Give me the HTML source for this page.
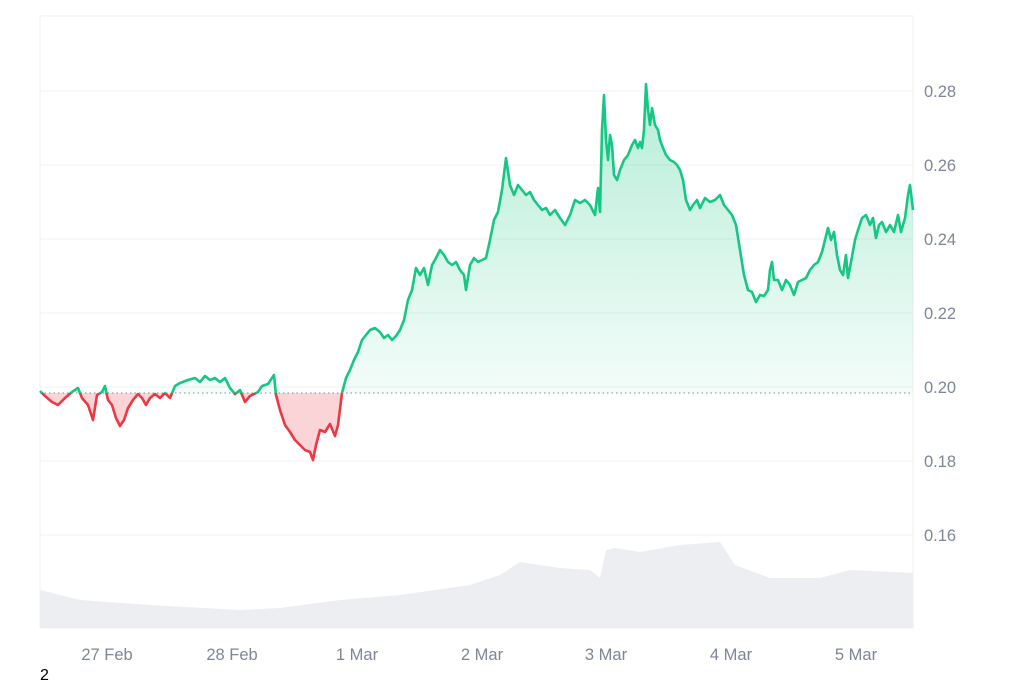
<!DOCTYPE html>
<html><head><style>
body{margin:0;background:#fff;width:1024px;height:683px;overflow:hidden;font-family:"Liberation Sans",sans-serif}
</style></head><body>
<svg width="1024" height="683" xmlns="http://www.w3.org/2000/svg" font-family="Liberation Sans, sans-serif">
<defs>
<linearGradient id="g" x1="0" y1="80" x2="0" y2="393" gradientUnits="userSpaceOnUse">
<stop offset="0" stop-color="#16c784" stop-opacity="0.32"/><stop offset="1" stop-color="#16c784" stop-opacity="0.05"/></linearGradient>
<clipPath id="up"><rect x="0" y="0" width="1024" height="393"/></clipPath>
<clipPath id="dn"><rect x="0" y="393" width="1024" height="300"/></clipPath>
<path id="p" d="M40,391 L45,396 L52,402 L58,405 L65,398 L72,392 L78,388 L82,398 L88,405 L93,420 L97,395 L102,392 L105,386 L108,400 L112,405 L116,418 L120,426 L124,420 L128,408 L133,400 L138,394 L142,398 L146,405 L150,398 L155,394 L160,398 L165,393 L170,398 L175,386 L180,383 L188,380 L195,378 L200,382 L205,376 L210,380 L215,378 L220,382 L225,378 L230,388 L235,394 L240,390 L245,402 L250,396 L258,392 L262,386 L268,384 L274,375 L276,395 L280,410 L285,425 L290,432 L295,440 L300,445 L305,450 L310,452 L313,460 L316,445 L320,430 L325,432 L330,424 L335,436 L338,425 L342,393 L346,378 L350,370 L354,360 L358,352 L362,340 L366,335 L370,330 L375,328 L380,332 L384,338 L388,335 L392,340 L396,336 L400,330 L404,320 L408,300 L412,290 L416,268 L420,275 L424,268 L428,285 L432,265 L436,258 L440,250 L444,255 L448,262 L452,265 L456,262 L460,270 L464,275 L466,290 L470,265 L474,258 L478,262 L482,260 L486,258 L490,240 L494,220 L498,212 L502,190 L506,158 L510,185 L514,195 L518,185 L522,190 L526,195 L530,192 L534,200 L538,205 L542,210 L546,208 L550,215 L555,210 L560,218 L565,225 L570,215 L575,200 L580,203 L585,200 L590,205 L595,215 L598,188 L600,212 L602,130 L604,95 L606,140 L608,160 L610,135 L612,145 L614,175 L617,180 L620,170 L624,160 L628,155 L632,145 L635,140 L638,148 L640,142 L642,148 L644,130 L646,84 L648,110 L650,125 L652,108 L655,125 L658,130 L660,140 L663,148 L666,155 L670,160 L674,162 L677,165 L680,170 L683,180 L686,200 L690,210 L693,205 L697,200 L700,208 L705,198 L710,202 L715,200 L720,195 L724,205 L728,210 L732,215 L736,225 L740,250 L744,275 L748,290 L752,292 L756,302 L760,295 L764,296 L768,290 L770,270 L772,262 L774,280 L778,280 L782,290 L786,280 L790,285 L794,295 L798,282 L802,280 L806,278 L810,270 L814,265 L818,262 L822,252 L825,240 L828,228 L831,240 L834,232 L837,255 L840,270 L843,275 L846,255 L848,278 L851,262 L855,240 L858,230 L862,218 L866,215 L870,225 L873,218 L876,238 L879,225 L882,222 L886,232 L890,225 L894,232 L898,215 L901,232 L905,218 L908,195 L910,185 L913,210"/>
</defs>
<rect x="40" y="16" width="873" height="612" fill="none" stroke="#eff0f2"/>
<g stroke="#eff0f2" stroke-width="1">
<line x1="40" x2="913" y1="91" y2="91"/><line x1="40" x2="913" y1="165" y2="165"/>
<line x1="40" x2="913" y1="239" y2="239"/><line x1="40" x2="913" y1="313" y2="313"/>
<line x1="40" x2="913" y1="387" y2="387"/><line x1="40" x2="913" y1="461" y2="461"/>
<line x1="40" x2="913" y1="535" y2="535"/>
</g>
<path d="M40,590 L80,600 L150,605 L240,610 L280,608 L340,600 L400,595 L470,585 L500,575 L520,562 L560,568 L590,570 L600,578 L606,550 L615,548 L640,552 L680,545 L720,542 L735,565 L770,578 L820,578 L850,570 L913,573 L913,628 L40,628Z" fill="#eceef1"/>
<path d="M40,391 L45,396 L52,402 L58,405 L65,398 L72,392 L78,388 L82,398 L88,405 L93,420 L97,395 L102,392 L105,386 L108,400 L112,405 L116,418 L120,426 L124,420 L128,408 L133,400 L138,394 L142,398 L146,405 L150,398 L155,394 L160,398 L165,393 L170,398 L175,386 L180,383 L188,380 L195,378 L200,382 L205,376 L210,380 L215,378 L220,382 L225,378 L230,388 L235,394 L240,390 L245,402 L250,396 L258,392 L262,386 L268,384 L274,375 L276,395 L280,410 L285,425 L290,432 L295,440 L300,445 L305,450 L310,452 L313,460 L316,445 L320,430 L325,432 L330,424 L335,436 L338,425 L342,393 L40,393Z" fill="#ea3943" fill-opacity="0.22" clip-path="url(#dn)"/>
<path d="M40,393 L40,391 L45,396 L52,402 L58,405 L65,398 L72,392 L78,388 L82,398 L88,405 L93,420 L97,395 L102,392 L105,386 L108,400 L112,405 L116,418 L120,426 L124,420 L128,408 L133,400 L138,394 L142,398 L146,405 L150,398 L155,394 L160,398 L165,393 L170,398 L175,386 L180,383 L188,380 L195,378 L200,382 L205,376 L210,380 L215,378 L220,382 L225,378 L230,388 L235,394 L240,390 L245,402 L250,396 L258,392 L262,386 L268,384 L274,375 L276,395 L342,393 L346,378 L350,370 L354,360 L358,352 L362,340 L366,335 L370,330 L375,328 L380,332 L384,338 L388,335 L392,340 L396,336 L400,330 L404,320 L408,300 L412,290 L416,268 L420,275 L424,268 L428,285 L432,265 L436,258 L440,250 L444,255 L448,262 L452,265 L456,262 L460,270 L464,275 L466,290 L470,265 L474,258 L478,262 L482,260 L486,258 L490,240 L494,220 L498,212 L502,190 L506,158 L510,185 L514,195 L518,185 L522,190 L526,195 L530,192 L534,200 L538,205 L542,210 L546,208 L550,215 L555,210 L560,218 L565,225 L570,215 L575,200 L580,203 L585,200 L590,205 L595,215 L598,188 L600,212 L602,130 L604,95 L606,140 L608,160 L610,135 L612,145 L614,175 L617,180 L620,170 L624,160 L628,155 L632,145 L635,140 L638,148 L640,142 L642,148 L644,130 L646,84 L648,110 L650,125 L652,108 L655,125 L658,130 L660,140 L663,148 L666,155 L670,160 L674,162 L677,165 L680,170 L683,180 L686,200 L690,210 L693,205 L697,200 L700,208 L705,198 L710,202 L715,200 L720,195 L724,205 L728,210 L732,215 L736,225 L740,250 L744,275 L748,290 L752,292 L756,302 L760,295 L764,296 L768,290 L770,270 L772,262 L774,280 L778,280 L782,290 L786,280 L790,285 L794,295 L798,282 L802,280 L806,278 L810,270 L814,265 L818,262 L822,252 L825,240 L828,228 L831,240 L834,232 L837,255 L840,270 L843,275 L846,255 L848,278 L851,262 L855,240 L858,230 L862,218 L866,215 L870,225 L873,218 L876,238 L879,225 L882,222 L886,232 L890,225 L894,232 L898,215 L901,232 L905,218 L908,195 L910,185 L913,210 L913,393Z" fill="url(#g)" clip-path="url(#up)"/>
<use href="#p" fill="none" stroke="#16c784" stroke-width="2.6" stroke-linejoin="round" clip-path="url(#up)"/>
<use href="#p" fill="none" stroke="#ea3943" stroke-width="2.6" stroke-linejoin="round" clip-path="url(#dn)"/>
<line x1="40" x2="913" y1="393" y2="393" stroke="#888" stroke-dasharray="1.5,3" stroke-width="1"/>
<g fill="#7d8596" font-size="16.5">
<text x="924" y="97">0.28</text><text x="924" y="171">0.26</text><text x="924" y="245">0.24</text>
<text x="924" y="319">0.22</text><text x="924" y="393">0.20</text><text x="924" y="467">0.18</text>
<text x="924" y="541">0.16</text>
</g>
<g fill="#7d8596" font-size="16.5" text-anchor="middle">
<text x="107" y="660">27 Feb</text><text x="232" y="660">28 Feb</text><text x="357" y="660">1 Mar</text>
<text x="482" y="660">2 Mar</text><text x="606" y="660">3 Mar</text><text x="731" y="660">4 Mar</text>
<text x="856" y="660">5 Mar</text>
</g>
<text x="40" y="680" font-size="16" fill="#000">2</text>
</svg>
</body></html>
